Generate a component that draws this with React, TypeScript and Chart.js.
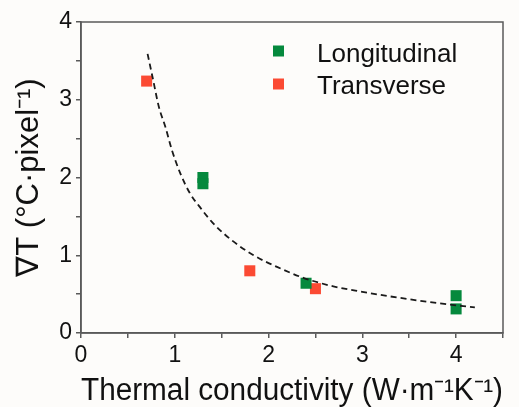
import React, { useEffect, useRef } from "react";
import { Chart, registerables } from "chart.js";

Chart.register(...registerables);

// Measured data
const longitudinalX = [1.3, 1.3, 2.4, 4.0, 4.0];
const longitudinalY = [2.0, 1.92, 0.64, 0.48, 0.31];
const transverseX = [0.7, 1.8, 2.5];
const transverseY = [3.24, 0.8, 0.57];

// Dashed fit curve
const fitX = [0.71, 0.77, 0.83, 0.9, 0.97, 1.06, 1.16, 1.28, 1.41, 1.6, 1.84, 2.09, 2.37, 2.69, 3.0, 3.3, 3.83, 4.2];
const fitY = [3.59, 3.25, 2.91, 2.65, 2.35, 2.05, 1.8, 1.6, 1.41, 1.2, 1.0, 0.85, 0.71, 0.6, 0.53, 0.47, 0.38, 0.33];

const seriesNames = ["Longitudinal", "Transverse"];
const xTitle = "Thermal conductivity (W·m⁻¹K⁻¹)";
const yTitle = "∇T (°C·pixel⁻¹)";

const GREEN = "#05893d";
const RED = "#fb4a33";
const AXIS = "#5a5a5a";
const FONT = "'Liberation Sans', Arial, sans-serif";

const zip = (xs: number[], ys: number[]) => xs.map((x, i) => ({ x, y: ys[i] }));

export default function App() {
  const ref = useRef<HTMLCanvasElement | null>(null);

  useEffect(() => {
    const canvas = ref.current;
    if (!canvas) return;

    const bgPlugin = {
      id: "bg",
      beforeDraw(chart: any) {
        const { ctx, width, height } = chart;
        ctx.save();
        ctx.fillStyle = "#fdfcfa";
        ctx.fillRect(0, 0, width, height);
        ctx.restore();
      },
    };

    const framePlugin = {
      id: "frame",
      afterDraw(chart: any) {
        const { ctx, chartArea } = chart;
        ctx.save();
        ctx.strokeStyle = AXIS;
        ctx.lineWidth = 1.5;
        ctx.strokeRect(chartArea.left, chartArea.top, chartArea.right - chartArea.left, chartArea.bottom - chartArea.top);
        ctx.restore();
      },
    };

    const legendPlugin = {
      id: "customLegend",
      afterDraw(chart: any) {
        const { ctx } = chart;
        const items = [
          { label: seriesNames[0], color: GREEN, cy: 51, base: 61.5 },
          { label: seriesNames[1], color: RED, cy: 84, base: 93.5 },
        ];
        ctx.save();
        ctx.font = `26px ${FONT}`;
        ctx.textBaseline = "alphabetic";
        ctx.textAlign = "left";
        for (const it of items) {
          ctx.fillStyle = it.color;
          ctx.fillRect(273, it.cy - 5.5, 11, 11);
          ctx.fillStyle = "#111";
          ctx.fillText(it.label, 317, it.base);
        }
        ctx.restore();
      },
    };

    const tickCb = (v: any) => (Math.abs(v - Math.round(v)) < 1e-6 ? String(Math.round(v)) : "");

    const chart = new Chart(canvas, {
      type: "scatter",
      data: {
        datasets: [
          {
            type: "line",
            label: "fit",
            data: zip(fitX, fitY),
            borderColor: "#1a1a1a",
            borderWidth: 1.8,
            borderDash: [6, 4],
            pointRadius: 0,
            tension: 0.4,
            cubicInterpolationMode: "monotone",
            fill: false,
            order: 0,
          } as any,
          {
            label: seriesNames[0],
            data: zip(longitudinalX, longitudinalY),
            backgroundColor: GREEN,
            borderWidth: 0,
            pointStyle: "rect",
            pointRadius: 7.8,
            order: 1,
          },
          {
            label: seriesNames[1],
            data: zip(transverseX, transverseY),
            backgroundColor: RED,
            borderWidth: 0,
            pointStyle: "rect",
            pointRadius: 7.8,
            order: 1,
          },
        ],
      },
      options: {
        responsive: false,
        animation: false,
        events: [],
        layout: { padding: { left: 0, top: 22, right: 16, bottom: 0 } },
        plugins: {
          legend: { display: false },
          tooltip: { enabled: false },
        },
        scales: {
          x: {
            type: "linear",
            min: 0,
            max: 4.5,
            afterFit(scale: any) {
              scale.height = 74;
            },
            ticks: {
              stepSize: 0.5,
              autoSkip: false,
              maxRotation: 0,
              callback: tickCb,
              color: "#111",
              padding: 6,
              font: { family: FONT, size: 23, lineHeight: 1 },
            },
            grid: {
              drawOnChartArea: false,
              drawTicks: true,
              tickLength: 5,
              color: AXIS,
              lineWidth: 1.5,
            },
            border: { display: true, color: AXIS, width: 1.5 },
            title: {
              display: true,
              text: xTitle,
              color: "#111",
              font: { family: FONT, size: 31, lineHeight: 1 },
              padding: { top: 0, bottom: 0 },
            },
          },
          y: {
            type: "linear",
            min: 0,
            max: 4,
            afterFit(scale: any) {
              scale.width = 81;
            },
            ticks: {
              stepSize: 0.5,
              autoSkip: false,
              callback: tickCb,
              color: "#111",
              padding: 4,
              font: { family: FONT, size: 23, lineHeight: 1 },
            },
            grid: {
              drawOnChartArea: false,
              drawTicks: true,
              tickLength: 5,
              color: AXIS,
              lineWidth: 1.5,
            },
            border: { display: true, color: AXIS, width: 1.5 },
            title: {
              display: true,
              text: yTitle,
              color: "#111",
              font: { family: FONT, size: 31, lineHeight: 1 },
              padding: { top: 14, bottom: 0 },
            },
          },
        },
      },
      plugins: [bgPlugin, framePlugin, legendPlugin],
    });

    return () => chart.destroy();
  }, []);

  return (
    <div style={{ position: "absolute", left: 0, top: 0, width: 519, height: 407, background: "#fdfcfa" }}>
      <canvas ref={ref} width={519} height={407} />
    </div>
  );
}
